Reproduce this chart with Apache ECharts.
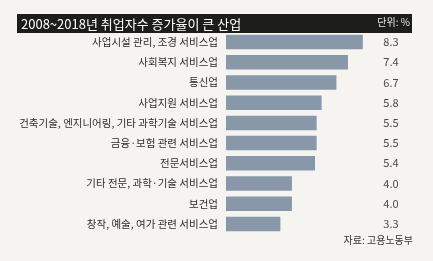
<!DOCTYPE html>
<html><head><meta charset="utf-8">
<script src="https://cdn.jsdelivr.net/npm/echarts@6/dist/echarts.min.js"></script>
<style>html,body{margin:0;padding:0;background:#f6f4f0;}#c{width:433px;height:261px;}</style>
</head><body><div id="c"></div>
<script>
const titleText = '2008~2018년 취업자수 증가율이 큰 산업';
const unitText = '단위: %';
const sourceText = '자료: 고용노동부';
const categories = ['사업시설 관리, 조경 서비스업','사회복지 서비스업','통신업','사업지원 서비스업','건축기술, 엔지니어링, 기타 과학기술 서비스업','금융·보험 관련 서비스업','전문서비스업','기타 전문, 과학·기술 서비스업','보건업','창작, 예술, 여가 관련 서비스업'];
const values = [8.3, 7.4, 6.7, 5.8, 5.5, 5.5, 5.4, 4.0, 4.0, 3.3];

const font = '"Noto Sans CJK KR", "Noto Sans", sans-serif';
const chart = echarts.init(document.getElementById('c'), null, {renderer:'canvas'});
chart.setOption({
  backgroundColor: '#f6f4f0',
  animation: false,
  graphic: [{type:'rect', shape:{x:17, y:14, width:395, height:19}, style:{fill:'#1d1d19'}, z:0}],
  title: [
    {text: titleText, left: 21, top: 14, padding: [2,0,0,0], textStyle:{color:'#ffffff', fontSize:13, fontWeight:'normal', fontFamily:font, lineHeight:17}},
    {text: unitText, right: 23, top: 17, padding: 0, textStyle:{color:'#e8e8e8', fontSize:10, fontWeight:'normal', fontFamily:font}},
    {text: sourceText, right: 20, top: 235, padding: 0, textStyle:{color:'#333333', fontSize:10, fontWeight:'normal', fontFamily:font}}
  ],
  grid: {left: 226, top: 32, width: 150, height: 202},
  xAxis: {type:'value', min:0, max:9.1, show:false},
  yAxis: [
    {type:'category', inverse:true, data:categories, axisLine:{show:false}, axisTick:{show:false},
     axisLabel:{color:'#2e2e2e', fontSize:10.5, fontFamily:font, margin:8}},
    {type:'category', inverse:true, position:'right', data:values.map(v=>v.toFixed(1)), axisLine:{show:false}, axisTick:{show:false},
     axisLabel:{color:'#4a4a4a', fontSize:11, fontFamily:font, margin:15, align:'center'}}
  ],
  series: [{type:'bar', data:values, barWidth:'72%', itemStyle:{color:'#8898a9'}}]
});
</script></body></html>
